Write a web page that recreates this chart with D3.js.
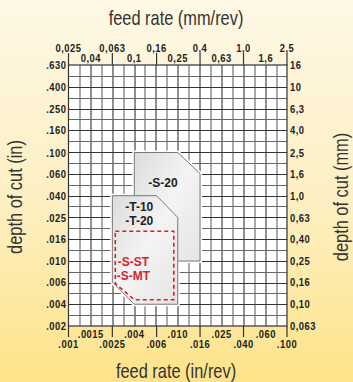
<!DOCTYPE html>
<html>
<head>
<meta charset="utf-8">
<script src="https://cdn.jsdelivr.net/npm/d3@7"></script>
<style>
  body { margin: 0; }
  svg { display: block; }
  .tick-lbl { font-family: "Liberation Sans", Arial, sans-serif; font-weight: bold; font-size: 11.5px; fill: #222; letter-spacing: 0.6px; }
  .title { font-family: "Liberation Sans", Arial, sans-serif; font-size: 20px; fill: #333; }
  .shape-lbl { font-family: "Liberation Sans", Arial, sans-serif; font-weight: bold; font-size: 12px; }
</style>
</head>
<body>
<div id="chart"></div>
<script>
// feed rate axis (mm/rev on top, in/rev below)
var feedMajorMm = [0.025, 0.063, 0.16, 0.4, 1.0, 2.5];
var feedMajorMmLbl = ["0,025", "0,063", "0,16", "0,4", "1,0", "2,5"];
var feedMinorMm = [0.04, 0.1, 0.25, 0.63, 1.6];
var feedMinorMmLbl = ["0,04", "0,1", "0,25", "0,63", "1,6"];
var feedMajorInLbl = [".001", ".0025", ".006", ".016", ".040", ".100"];
var feedMinorInLbl = [".0015", ".004", ".010", ".025", ".060"];

// depth of cut axis
var depthMm = [16, 10, 6.3, 4.0, 2.5, 1.6, 1.0, 0.63, 0.40, 0.25, 0.16, 0.10, 0.063];
var depthMmLbl = ["16", "10", "6,3", "4,0", "2,5", "1,6", "1,0", "0,63", "0,40", "0,25", "0,16", "0,10", "0,063"];
var depthInLbl = [".630", ".400", ".250", ".160", ".100", ".060", ".040", ".025", ".016", ".010", ".006", ".004", ".002"];

// application areas, [feed mm/rev, depth mm]
var areaS20 = [[0.1, 2.5], [0.25, 2.5], [0.4, 1.6], [0.4, 0.25], [0.1, 0.25]];
var areaT = [[0.063, 1.0], [0.16, 1.0], [0.25, 0.63], [0.25, 0.1], [0.1, 0.1], [0.063, 0.16]];
var areaSST = [[0.067, 0.47], [0.23, 0.47], [0.23, 0.11], [0.1, 0.11], [0.067, 0.155]];

var svgW = 353, svgH = 382;
var condense = 0.82;
var margin = { top: 65, right: 66, bottom: 56, left: 68.5 },
    width = 287 - margin.left,
    height = 326 - margin.top;

var svg = d3.select("#chart").append("svg")
    .attr("width", svgW)
    .attr("height", svgH);

var defs = svg.append("defs");
var bg = defs.append("linearGradient").attr("id", "bg")
    .attr("x1", 0).attr("y1", 0).attr("x2", 0).attr("y2", 1);
bg.append("stop").attr("offset", "0%").attr("stop-color", "#fef8e6");
bg.append("stop").attr("offset", "55%").attr("stop-color", "#fdefc0");
bg.append("stop").attr("offset", "100%").attr("stop-color", "#fee38a");

var gr = defs.append("linearGradient").attr("id", "shapeFill")
    .attr("x1", 0).attr("y1", 0).attr("x2", 1).attr("y2", 1);
gr.append("stop").attr("offset", "0%").attr("stop-color", "#dcdcdc");
gr.append("stop").attr("offset", "50%").attr("stop-color", "#f4f4f4");
gr.append("stop").attr("offset", "100%").attr("stop-color", "#e4e4e4");

svg.append("rect").attr("width", svgW).attr("height", svgH).attr("fill", "url(#bg)");

var canvas = svg.append("g")
    .attr("transform", "translate(" + margin.left + "," + margin.top + ")");

var x = d3.scaleLog().domain([0.025, 2.5]).range([0, width]);
var y = d3.scaleLog().domain([0.063, 16]).range([height, 0]);

canvas.append("rect").attr("width", width).attr("height", height).attr("fill", "#fff");

// grid: 20 columns, 24 rows
var nCols = 20, nRows = 24;
canvas.append("g").selectAll("line")
    .data(d3.range(1, nCols))
    .enter().append("line")
    .attr("x1", function (i) { return Math.round(i * width / nCols) + 0.5; })
    .attr("x2", function (i) { return Math.round(i * width / nCols) + 0.5; })
    .attr("y1", 0).attr("y2", height)
    .attr("stroke", function (i) { return i % 2 == 0 ? "#333" : "#666"; })
    .attr("stroke-width", 1.1);
canvas.append("g").selectAll("line")
    .data(d3.range(1, nRows))
    .enter().append("line")
    .attr("y1", function (i) { return Math.round(i * height / nRows) + 0.5; })
    .attr("y2", function (i) { return Math.round(i * height / nRows) + 0.5; })
    .attr("x1", 0).attr("x2", width)
    .attr("stroke", function (i) { return i % 2 == 0 ? "#333" : "#666"; })
    .attr("stroke-width", 1.1);

canvas.append("rect").attr("width", width).attr("height", height)
    .attr("fill", "none").attr("stroke", "#333").attr("stroke-width", 1.2);

var line = d3.line()
    .x(function (d) { return x(d[0]); })
    .y(function (d) { return y(d[1]); });

// white halo behind shapes
[areaS20, areaT].forEach(function (a) {
    canvas.append("path").attr("d", line(a) + "Z")
        .attr("fill", "#fff").attr("stroke", "#fff").attr("stroke-width", 4);
});
[areaS20, areaT].forEach(function (a) {
    canvas.append("path").attr("d", line(a) + "Z")
        .attr("fill", "url(#shapeFill)")
        .attr("stroke", "#777").attr("stroke-width", 1);
});
canvas.append("path").attr("d", line(areaSST) + "Z")
    .attr("fill", "none")
    .attr("stroke", "#d8202a").attr("stroke-width", 1.6)
    .attr("stroke-dasharray", "4,3");

var shapeLabels = [
    { t: "-S-20", f: 0.183, d: 1.31, c: "#222" },
    { t: "-T-10", f: 0.111, d: 0.80, c: "#222" },
    { t: "-T-20", f: 0.111, d: 0.59, c: "#222" },
    { t: "-S-ST", f: 0.098, d: 0.245, c: "#d8202a" },
    { t: "-S-MT", f: 0.098, d: 0.185, c: "#d8202a" }
];
canvas.selectAll(".shape-lbl")
    .data(shapeLabels)
    .enter().append("text")
    .attr("class", "shape-lbl")
    .attr("x", function (d) { return x(d.f); })
    .attr("y", function (d) { return y(d.d); })
    .attr("dy", "0.36em")
    .attr("text-anchor", "middle")
    .attr("fill", function (d) { return d.c; })
    .text(function (d) { return d.t; });

// condensed tick text at (px, py)
function tickText(g, px, py, txt, anchor, dy) {
    g.append("text")
        .attr("class", "tick-lbl")
        .attr("transform", "translate(" + px + "," + py + ") scale(" + condense + ",1)")
        .attr("dy", dy || 0)
        .attr("text-anchor", anchor)
        .text(txt);
}

// top axis (mm/rev)
var topAxis = canvas.append("g");
topAxis.selectAll("line").data(feedMajorMm).enter().append("line")
    .attr("x1", function (d) { return x(d); }).attr("x2", function (d) { return x(d); })
    .attr("y1", 0).attr("y2", -12).attr("stroke", "#333").attr("stroke-width", 1.2);
feedMajorMm.forEach(function (d, i) { tickText(topAxis, x(d), -13, feedMajorMmLbl[i], "middle"); });
feedMinorMm.forEach(function (d, i) { tickText(topAxis, x(d), -3, feedMinorMmLbl[i], "middle"); });

// bottom axis (in/rev)
var botAxis = canvas.append("g").attr("transform", "translate(0," + height + ")");
botAxis.selectAll("line").data(feedMajorMm).enter().append("line")
    .attr("x1", function (d) { return x(d); }).attr("x2", function (d) { return x(d); })
    .attr("y1", 0).attr("y2", 11).attr("stroke", "#333").attr("stroke-width", 1.2);
feedMinorMm.forEach(function (d, i) { tickText(botAxis, x(d), 12, feedMinorInLbl[i], "middle"); });
feedMajorMm.forEach(function (d, i) { tickText(botAxis, x(d), 22, feedMajorInLbl[i], "middle"); });

// left (in) and right (mm) depth labels
var leftAxis = canvas.append("g"), rightAxis = canvas.append("g");
depthMm.forEach(function (d, i) {
    tickText(leftAxis, -2, y(d), depthInLbl[i], "end", "0.36em");
    tickText(rightAxis, width + 3, y(d), depthMmLbl[i], "start", "0.36em");
});

// titles
function title(tf, txt) {
    svg.append("text").attr("class", "title")
        .attr("transform", tf + " scale(" + condense + ",1)")
        .attr("text-anchor", "middle")
        .text(txt);
}
title("translate(176,25)", "feed rate (mm/rev)");
title("translate(176,378)", "feed rate (in/rev)");
title("translate(22,197) rotate(-90)", "depth of cut (in)");
title("translate(348,197) rotate(-90)", "depth of cut (mm)");
</script>
</body>
</html>
